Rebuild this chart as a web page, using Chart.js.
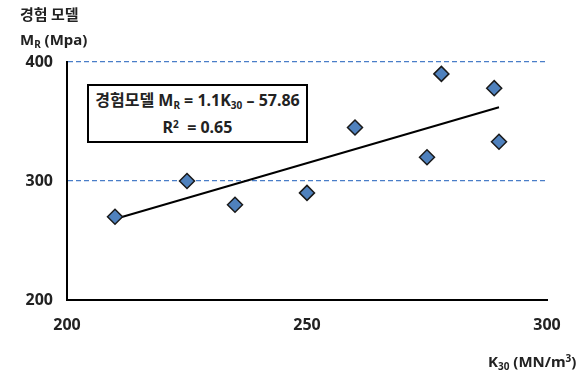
<!DOCTYPE html>
<html><head><meta charset="utf-8">
<script src="https://cdn.jsdelivr.net/npm/chart.js@4"></script>
<style>
html,body{margin:0;padding:0;background:#fff;}
#wrap{position:relative;width:584px;height:372px;font-family:"Noto Sans","Noto Sans CJK KR",sans-serif;font-weight:bold;color:#222;}
canvas{position:absolute;left:0;top:0;}
.lbl{position:absolute;white-space:nowrap;font-size:15px;line-height:18px;}
sub{font-size:10px;vertical-align:-3px;line-height:0;}
sup{font-size:10px;vertical-align:5px;line-height:0;}
#box{position:absolute;left:87px;top:84px;width:217px;height:55px;border:2px solid #000;background:#fff;text-align:center;font-size:16px;line-height:27px;}
</style></head>
<body><div id="wrap">
<canvas id="c" width="584" height="372"></canvas>
<div class="lbl" style="left:20px;top:5px;font-family:'Noto Sans CJK KR',sans-serif;">경험 모델</div>
<div class="lbl" style="left:20px;top:30px;">M<sub>R</sub> (Mpa)</div>
<div class="lbl" style="left:488px;top:352px;">K<sub>30</sub> (MN/m<sup>3</sup>)</div>
<div id="box"><div><span style="font-family:'Noto Sans CJK KR',sans-serif;">경험모델</span> M<sub>R</sub> = 1.1K<sub>30</sub> – 57.86</div><div>R<sup>2</sup> &nbsp;= 0.65</div></div>
</div>
<script>
const k30 = [210, 225, 235, 250, 260, 275, 278, 289, 290];
const mr  = [270, 300, 280, 290, 345, 320, 390, 378, 333];
const trendK30 = [210, 290];
const trendMR  = [268, 362];
const xTicks = [200, 250, 300];
const yTicks = [200, 300, 400];

const points = k30.map((x, i) => ({x: x, y: mr[i]}));
const trend = trendK30.map((x, i) => ({x: x, y: trendMR[i]}));

new Chart(document.getElementById('c'), {
  type: 'scatter',
  data: {datasets: [
    {type: 'line', data: trend, borderColor: '#000', borderWidth: 2, pointRadius: 0, fill: false, order: 2},
    {data: points, pointStyle: 'rectRot', pointRadius: 7.5, pointHoverRadius: 7.5,
     backgroundColor: '#4F81BD', borderColor: '#1a1a1a', borderWidth: 1.5, order: 1}
  ]},
  options: {
    responsive: false, animation: false,
    plugins: {legend: {display: false}, tooltip: {enabled: false}},
    layout: {padding: {top: 62, right: 37, left: 0, bottom: 0}},
    scales: {
      x: {type: 'linear', min: 200, max: 300,
        afterBuildTicks: s => { s.ticks = xTicks.map(v => ({value: v})); },
        afterFit: s => { s.height = 72; },
        grid: {display: false, drawTicks: false},
        border: {display: true, color: '#000', width: 2},
        ticks: {padding: 16, color: '#222', font: {family: 'Noto Sans', size: 16, weight: 'bold'}}
      },
      y: {type: 'linear', min: 200, max: 400,
        afterBuildTicks: s => { s.ticks = yTicks.map(v => ({value: v})); },
        afterFit: s => { s.width = 67; },
        grid: {drawTicks: false, color: c => c.tick && c.tick.value === 200 ? 'rgba(0,0,0,0)' : '#4A7EC8', lineWidth: 1.3},
        border: {display: true, color: '#000', width: 2, dash: [5, 3]},
        ticks: {padding: 14, color: '#222', font: {family: 'Noto Sans', size: 16, weight: 'bold'}}
      }
    }
  }
});
</script>
</body></html>
